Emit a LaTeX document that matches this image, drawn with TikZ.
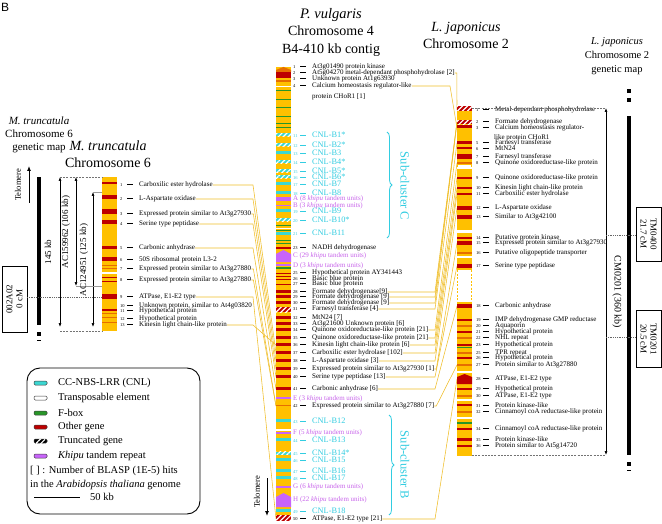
\documentclass[tikz,border=0pt]{standalone}
\usepackage{fontspec}
\setmainfont{Liberation Serif}
\setsansfont{Liberation Sans}
\usetikzlibrary{arrows.meta,decorations.pathreplacing,patterns.meta,calc}
\definecolor{chrY}{RGB}{255,192,0}
\definecolor{bandR}{RGB}{190,0,0}
\definecolor{bandO}{RGB}{230,110,0}
\definecolor{bandG}{RGB}{40,150,40}
\definecolor{bandC}{RGB}{60,215,210}
\definecolor{bandP}{RGB}{200,100,250}
\definecolor{cnlT}{RGB}{50,205,225}
\definecolor{khT}{RGB}{200,100,235}
\definecolor{connY}{RGB}{240,190,40}
\newcommand\gtxt[2]{\makebox[7pt][l]{\fontsize{4.5}{4.5}\selectfont #1}\rule[1.6pt]{6pt}{1pt}\hspace{6pt}#2}
\newcommand\ctxt[2]{\makebox[7pt][l]{\fontsize{4.5}{4.5}\selectfont #1}\rule[1.8pt]{6pt}{1.2pt}\hspace{6pt}{\fontsize{8.3}{8.3}\selectfont #2}}
\newcommand\linkto[3]{\draw[conn] let \p1=(#1.east) in (#1.east) -- ({max(\x1+2pt,#3pt)},\y1) -- (#2);}
\newcommand\bandset[3]{\foreach \yy/\hh in {#3} {\fill[#2] (#1,{\yy-\hh/2}) rectangle ++(15,\hh);}}
\newcommand\stripe[4]{\fill[#2] (#1,#3) rectangle ++(15,#4);
  \fill[pattern={Lines[angle=45,distance=3.5pt,line width=1.2pt]},pattern color=white] (#1,#3) rectangle ++(15,#4);}
\begin{document}
\begin{tikzpicture}[x=1pt,y=-1pt,
 gl/.style={anchor=west,inner sep=0pt,font=\fontsize{7}{7}\selectfont},
 cl/.style={anchor=west,inner sep=0pt,text=cnlT,font=\fontsize{7}{7}\selectfont},
 kl/.style={anchor=west,inner sep=0pt,text=khT,font=\fontsize{7}{7}\selectfont},
 conn/.style={draw=connY,line width=0.55pt},
 ttl/.style={inner sep=0pt,align=center,font=\fontsize{14}{17.5}\selectfont},
 gttl/.style={inner sep=0pt,align=center,font=\fontsize{10.5}{13.5}\selectfont},
 dtip/.style={{Latex[length=4pt,width=3pt]}-{Latex[length=4pt,width=3pt]},line width=0.6pt},
 utip/.style={-{Latex[length=5pt,width=4pt]},line width=0.9pt},
 vlab/.style={inner sep=0pt,font=\fontsize{9}{10}\selectfont},
 dsh/.style={draw=black!55,line width=0.5pt,dash pattern=on 2pt off 1.2pt},
 dotln/.style={draw=black!60,line width=0.5pt,dash pattern=on 0.8pt off 1pt},
 mapbox/.style={draw,line width=0.7pt,inner sep=0pt,align=center,font=\fontsize{9}{10}\selectfont},
 legt/.style={anchor=west,inner sep=0pt,font=\fontsize{10.5}{11}\selectfont},
 subc/.style={inner sep=0pt,rotate=-90,text=cnlT,font=\fontsize{12.5}{13}\selectfont},
 brc/.style={draw=cnlT,line width=0.8pt,decorate,decoration={brace,amplitude=5pt}},
]
\fill[white] (0,0) rectangle (662,524);
\useasboundingbox (0,0) rectangle (662,524);

% titles
\node[anchor=north west,inner sep=0pt,font=\sffamily\fontsize{12}{12}\selectfont] (lblB) at (1,3) {B};
\node[ttl] (tPv) at (331,32) {\fontsize{14.5}{17.5}\selectfont\textit{P. vulgaris}\\Chromosome 4\\B4-410 kb contig};
\node[ttl] (tLj) at (466,35.5) {\textit{L. japonicus}\\Chromosome 2};
\node[ttl,font=\fontsize{14}{17}\selectfont] (tMt) at (108,154.5) {\textit{M. truncatula}\\Chromosome 6};
\node[gttl,font=\fontsize{11}{13}\selectfont] (gMt) at (39,135) {\textit{M. truncatula}\\Chromosome 6\\genetic map};
\node[gttl,font=\fontsize{10.5}{14}\selectfont] (gLj) at (617,56) {\textit{L. japonicus}\\Chromosome 2\\genetic map};

% ---------- labels: left
\foreach \n/\y/\t in {1/185/{Carboxilic ester hydrolase},2/199/{L-Aspartate oxidase},3/214/{Expressed protein similar to At3g27930},
 4/224/{Serine type peptidase},5/248/{Carbonic anhydrase},6/260/{50S ribosomal protein L3-2},
 7/269/{Expressed protein similar to At3g27880},8/280/{Expressed protein similar to At3g27880},
 9/297/{ATPase, E1-E2 type},10/306/{Unknown protein, similar to At4g03820},11/311/{Hypothetical protein},
 12/319/{Hypothetical protein},13/325/{Kinesin light chain-like protein}}
 {\node[gl] (L\n) at (120,\y) {\gtxt{\n}{\t}};}

% ---------- labels: middle
\foreach \n/\y/\t in {1/67/{At3g01490 protein kinase},2/73/{At5g04270 metal-dependant phosphohydrolase [2]},
 3/79/{Unknown protein At1g63930},4/86/{Calcium homeostasis regulator-like},
 23/248/{NADH dehydrogenase},25/273/{Hypothetical protein AY341443},26/279/{Basic blue protein},27/284/{Basic blue protein},
 28/292/{Formate dehydrogenase[9]},29/297/{Formate dehydrogenase [9]},30/303/{Formate dehydrogenase [9]},
 31/309/{Farnesyl transferase [4]},32/318/{MtN24 [7]},33/324/{At3g21600 Unknown protein [6]},
 34/330/{Quinone oxidoreductase-like protein [21]},35/338/{Quinone oxidoreductase-like protein [21]},
 36/345/{Kinesin light chain-like protein [6]},37/353/{Carboxilic ester hydrolase [102]},
 38/361/{L-Aspartate oxidase [3]},39/369/{Expressed protein similar to At3g27930 [1]},
 40/377/{Serine type peptidase [13]},41/389/{Carbonic anhydrase [6]},
 42/406/{Expressed protein similar to At3g27880 [7]},50/519/{ATPase, E1-E2 type [21]}}
 {\node[gl] (M\n) at (293,\y) {\gtxt{\n}{\t}};}
\node[gl] (M4b) at (312,97) {protein CHoR1 [1]};
\foreach \n/\y/\t in {11/135/CNL-B1*,12/145/CNL-B2*,13/153/CNL-B3,14/162/CNL-B4*,15/171/CNL-B5*,16/177/CNL-B6*,
 17/184/CNL-B7,18/193/CNL-B8,19/211/CNL-B9,20/220/CNL-B10*,21/233/CNL-B11,
 43/421/CNL-B12,44/440/CNL-B13,45/453/CNL-B14*,46/460/CNL-B15,47/471/CNL-B16,48/478/CNL-B17,49/511/CNL-B18}
 {\node[cl] (M\n) at (293,\y) {\ctxt{\n}{\t}};}
\foreach \q/\y/\c in {A/199/8,B/206/3,C/256/29,D/266/3,E/399/3,F/433/5,G/487/6,H/500/22}
 {\node[kl] (K\q) at (293,\y) {\q{} (\c{} \textit{khipu} tandem units)};}

% ---------- labels: right
\foreach \n/\y/\t in {1/110/{Metal-dependant phosphohydrolase},2/122/{Formate dehydrogenase},3/128/{Calcium homeostasis regulator-},
 5/143/{Farnesyl transferase},6/148/{MtN24},7/157/{Farnesyl transferase},8/163/{Quinone oxidoreductase-like protein},
 9/178/{Quinone oxidoreductase-like protein},10/188/{Kinesin light chain-like protein},11/194/{Carboxilic ester hydrolase},
 12/208/{L-Aspartate oxidase},13/217/{Similar to At3g42100},14/238/{Putative protein kinase},
 15/243/{Expressed protein similar to At3g27930},16/253/{Putative oligopeptide transporter},17/266/{Serine type peptidase},
 18/306/{Carbonic anhydrase},19/320/{IMP dehydrogenase GMP reductase},20/326/{Aquaporin},21/332/{Hypothetical protein},
 22/338/{NHL repeat},23/345/{Hypothetical protein},25/353/{TPR repeat},26/358/{Hypothetical protein},
 27/365/{Protein similar to At3g27880},28/379/{ATPase, E1-E2 type},29/389/{Hypothetical protein},30/396/{ATPase, E1-E2 type},
 31/405/{Protein kinase-like},32/412/{Cinnamoyl coA reductase-like protein},34/429/{Cinnamoyl coA reductase-like protein},
 35/439/{Protein kinase-like},36/446/{Protein similar to At5g14720}}
 {\node[gl] (R\n) at (476,\y) {\gtxt{\n}{\t}};}
\node[gl] (R3b) at (494,138) {like protein CHoR1};

% ---------- connectors
\coordinate (midW) at (276,0);
\coordinate (rgtW) at (457,0);
\foreach \a/\b in {1/37,2/38,3/39,4/40,5/41,7/42,8/42,9/50,13/36}
 {\linkto{L\a}{M\b.west -| midW}{253}}
\foreach \a/\b in {28/2,29/2,30/2,31/5,34/8,35/9,36/10,37/11,38/12,39/15,40/17,41/18,42/27,50/28}
 {\linkto{M\a}{R\b.west -| rgtW}{435}}
\linkto{M2}{R1.west -| rgtW}{450}
\linkto{M4}{R3.west -| rgtW}{450}

% ---------- left chromosome
\fill[chrY] (102,177) rectangle (117,331);
\bandset{102}{bandR}{183/2,197.5/4,212/5,222/3.5,247.5/3.5,259/3.5,277.5/1.5,281/1,296/5,310/2}
\bandset{102}{bandO}{265.5/1,268.5/1.2,313.5/1,317.5/1,322.5/1}
\bandset{102}{white}{273/2}

% ---------- middle chromosome
\fill[chrY] (276,67) rectangle (291,521);
\fill[bandO] (276,70) -- (283.5,67) -- (291,70) -- (291,72) -- (276,72) -- cycle;
\bandset{276}{bandR}{75.5/6,248/2,273/1,276/1,279.5/1,284/1,291/3,296.5/3,302/3,317.5/3,323.5/3,329.5/3,337/3,344.5/3,352.5/3,360.5/3,368.5/3,376.5/3,388.5/3}
\bandset{276}{bandO}{81/1.2,405/1}
\bandset{276}{bandG}{91/1,100/1,108/1,117/1,124/1,128/1,226/1,231/1,241/1,244/1,268/1.5}
\bandset{276}{white}{87/1,228.5/1.2,430/1.5}
\bandset{276}{bandC}{153/3,184/3,193/3,211/3,233.5/3,420.5/3,439.5/3,459.5/3,470.5/3,477.5/3,510.5/3}
\bandset{276}{bandP}{199/3.5,205.5/1.5,265/1.2,398/1.2,433/1.5,487/1.5}
\foreach \yy in {133.5,143.5,160.5,169.5,175.5,218.5,451.5} {\stripe{276}{bandC}{\yy}{3}}
\stripe{276}{bandR}{307}{5}
\stripe{276}{bandR}{515}{6}
\fill[bandP] (276,254) -- (283.5,250) -- (291,254) -- (291,262) -- (276,262) -- cycle;
\fill[bandP] (276,497) -- (283.5,493) -- (291,497) -- (291,507) -- (276,507) -- cycle;

% ---------- right chromosome
\fill[chrY] (457,106) rectangle (472,456);
\bandset{457}{bandR}{127/3,143/3,148/2.5,157/5,178/1.5,188/2.5,194/2.5,208/4.5,217/4.5,238/2.5,243/4,266/4.5,305.5/4,320/2.5,332/2,345/2.5,358/2,389/2,405/2,429/2.5,439/3,446/2}
\bandset{457}{bandO}{163/1.5,253/1.5,326/1.5,338/1.5,353/1.5,365/1.5,396/1.5,412/1.5}
\bandset{457}{bandG}{347.5/1.2,423/1.2}
\bandset{457}{white}{167.5/4,232/3,257/2,372/1.5,400/1.5,418/1.5,286/32}
\stripe{457}{bandR}{106}{5}
\stripe{457}{bandR}{120.5}{4}
\fill[bandR] (457,377) -- (464.5,374) -- (472,377) -- (472,384) -- (457,384) -- cycle;
\draw[chrY,line width=0.7pt,dash pattern=on 2pt off 1.5pt] (457.4,270) -- (457.4,302) (471.6,270) -- (471.6,302)
  (457.4,165.5) -- (457.4,169.5) (471.6,165.5) -- (471.6,169.5);

% ---------- left genetic map and scale
\fill (37,177) rectangle (41,325);
\fill (37,332) rectangle (41,336);
\fill (37,340) rectangle (41,341.2);
\coordinate (telA) at (29,203); \coordinate (telB) at (29,166);
\draw[utip] (telA) -- (telB);
\node[inner sep=0pt,rotate=90,font=\fontsize{8.5}{9}\selectfont] (telL) at (18,185) {Telomere};
\coordinate (a1t) at (60,177); \coordinate (a1b) at (60,327);
\coordinate (a2t) at (76,177); \coordinate (a2b) at (76,286);
\coordinate (a3t) at (93,192); \coordinate (a3b) at (93,327);
\draw[dtip] (a1t) -- (a1b);
\draw[dtip] (a2t) -- (a2b);
\draw[dtip] (a3t) -- (a3b);
\coordinate (lc1) at (102,177); \coordinate (lc2) at (102,331); \coordinate (lc0) at (60,331);
\coordinate (lc3) at (102,192); \coordinate (lc4) at (102,286);
\draw[dsh] (a1t) -- (lc1);
\draw[dsh] (lc0) -- (lc2);
\draw[draw=black!40,line width=0.4pt] (a3t) -- (lc3);
\draw[draw=black!40,line width=0.4pt] (a2b) -- (lc4);
\node[vlab,rotate=90] (l145) at (48,252) {145 kb};
\node[vlab,rotate=90] (lAC1) at (66,232) {AC159962 (106 kb)};
\node[vlab,rotate=90] (lAC2) at (84,260) {AC124951 (125 kb)};
\node[mapbox,rotate=90,minimum width=66pt,minimum height=25pt] (b002) at (14.5,299) {002A02\\0 cM};
\coordinate (d1) at (27,297); \coordinate (d2) at (102,297);
\draw[dotln] (d1) -- (d2);

% ---------- right genetic map and scale
\fill (627,89) rectangle (631,93);
\fill (627,98) rectangle (631,102);
\fill (627,116) rectangle (631,455);
\fill (627,462) rectangle (631,466);
\fill (627,469.5) rectangle (631,471);
\coordinate (r1t) at (606,108); \coordinate (r1b) at (606,455);
\coordinate (rc1) at (472,108); \coordinate (rc2) at (472,455);
\draw[dsh] (rc1) -- (r1t);
\draw[dsh] (rc2) -- (r1b);
\draw[dtip] (r1t) -- (r1b);
\node[vlab,rotate=-90,font=\fontsize{10}{11}\selectfont] (lCM) at (617,292) {CM0201 (360 kb)};
\node[mapbox,rotate=-90,minimum width=54pt,minimum height=25pt] (bTM4) at (648.5,234) {TM0400\\21.7 cM};
\node[mapbox,rotate=-90,minimum width=57pt,minimum height=25pt] (bTM2) at (648.5,339) {TM0201\\20.5 cM};
\coordinate (d3) at (606,235); \coordinate (d4) at (606,337);
\draw[dotln] (d3) -- (d3 -| bTM4.south);
\draw[dotln] (d4) -- (d4 -| bTM2.south);

% ---------- bottom telomere
\coordinate (telC) at (267,478); \coordinate (telD) at (267,516);
\draw[utip] (telC) -- (telD);
\node[inner sep=0pt,rotate=90,font=\fontsize{8.5}{9}\selectfont] (telM) at (257,492) {Telomere};

% ---------- sub-clusters
\draw[brc] (387,132) -- (387,238);
\node[subc] (scC) at (405,186) {Sub-cluster C};
\draw[brc] (389,415) -- (389,515);
\node[subc] (scB) at (405,465) {Sub-cluster B};

% ---------- legend
\draw[line width=0.9pt,rounded corners=13pt] (27,368) rectangle (200,514);
\foreach \yy/\cc/\lt [count=\i] in {383/bandC/{CC-NBS-LRR (CNL)},398/white/{Transposable element},413/bandG/{F-box},
  427/bandR/{Other gene},441/black/{Truncated gene},456/bandP/{\textit{Khipu} tandem repeat}}
 {\filldraw[fill=\cc,draw=black!75,line width=0.5pt,rounded corners=1.2pt] (34,{\yy-2}) rectangle (47,{\yy+2});
  \node[legt] (leg\i) at (58,\yy) {\lt};}
\fill[pattern={Lines[angle=45,distance=3.5pt,line width=1.2pt]},pattern color=white] (36,439) rectangle (45,443);
\node[legt] (leg7) at (30,471) {[ ] : Number of BLASP (1E-5) hits};
\node[legt] (leg8) at (30,485) {in the \textit{Arabidopsis thaliana} genome};
\coordinate (sc1) at (34,497); \coordinate (sc2) at (80,497);
\draw[line width=0.7pt] (sc1) -- (sc2);
\node[legt] (leg9) at (90,497) {50 kb};
\end{tikzpicture}
\end{document}
